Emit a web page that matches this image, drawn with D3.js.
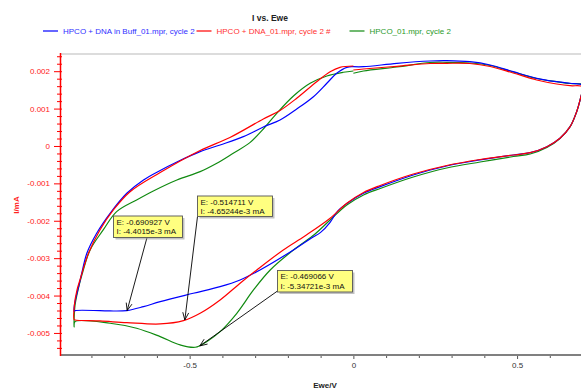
<!DOCTYPE html>
<html><head><meta charset="utf-8">
<script src="https://cdn.jsdelivr.net/npm/d3@7"></script>
<style>html,body{margin:0;padding:0;background:#fff;}svg{display:block;font-family:"Liberation Sans",Arial,sans-serif;}</style>
</head><body>
<svg id="c" width="581" height="390"></svg>
<script>
// ---- data (E in V, I in mA) ----
const seriesNames = ["HPCO + DNA in Buff_01.mpr, cycle 2", "HPCO + DNA_01.mpr, cycle 2 #", "HPCO_01.mpr, cycle 2"];
const seriesColors = ["#0000ff", "#ff0000", "#108a10"];
const legendTextColors = ["#3030ff", "#ff3030", "#2a9a2a"];

const buffCurve = [
 [0.000,0.002120],[0.031,0.002120],[0.133,0.002211],[0.234,0.002273],[0.285,0.002281],[0.356,0.002254],
 [0.418,0.002166],[0.488,0.001987],[0.560,0.001810],[0.621,0.001719],[0.662,0.001677],[0.695,0.001645],
 [0.700,0.001600],[0.700,0.001497],
 [0.695,0.001318],[0.682,0.000917],[0.662,0.000516],[0.631,0.000206],[0.591,-0.000019],[0.540,-0.000179],
 [0.489,-0.000241],[0.387,-0.000374],[0.285,-0.000535],[0.183,-0.000775],[0.082,-0.001088],[0.031,-0.001265],
 [-0.020,-0.001540],[-0.048,-0.001740],[-0.071,-0.002040],[-0.100,-0.002310],[-0.129,-0.002470],[-0.183,-0.002781],
 [-0.285,-0.003316],[-0.346,-0.003583],[-0.407,-0.003762],[-0.489,-0.003939],[-0.590,-0.004163],
 [-0.641,-0.004297],[-0.692,-0.004402],[-0.743,-0.004412],[-0.774,-0.004404],[-0.850,-0.004404],[-0.853,-0.004425],
 [-0.852,-0.004252],[-0.847,-0.004038],[-0.840,-0.003797],[-0.830,-0.003423],[-0.814,-0.002869],[-0.784,-0.002334],
 [-0.743,-0.001800],[-0.692,-0.001265],[-0.641,-0.000909],[-0.590,-0.000655],[-0.539,-0.000428],[-0.468,-0.000152],
 [-0.407,0.000027],[-0.336,0.000249],[-0.275,0.000508],[-0.224,0.000695],[-0.173,0.000989],[-0.122,0.001318],
 [-0.081,0.001677],[-0.051,0.001944],[-0.020,0.002104],[0.000,0.002120]
];
const dnaCurve = [
 [0.000,0.002032],[0.031,0.002059],[0.133,0.002131],[0.234,0.002206],[0.285,0.002211],[0.356,0.002206],
 [0.418,0.002126],[0.488,0.001952],[0.560,0.001765],[0.621,0.001658],[0.662,0.001612],[0.695,0.001604],
 [0.700,0.001570],[0.700,0.001500],
 [0.695,0.001318],[0.682,0.000917],[0.662,0.000516],[0.631,0.000206],[0.591,-0.000019],[0.540,-0.000179],
 [0.489,-0.000241],[0.387,-0.000361],[0.285,-0.000521],[0.183,-0.000749],[0.082,-0.001056],[0.031,-0.001243],
 [-0.020,-0.001532],[-0.071,-0.001933],[-0.148,-0.002407],[-0.214,-0.002781],[-0.295,-0.003316],
 [-0.346,-0.003671],[-0.407,-0.004118],[-0.468,-0.004474],[-0.519,-0.004671],[-0.590,-0.004760],
 [-0.692,-0.004725],[-0.774,-0.004680],[-0.850,-0.004653],[-0.853,-0.004639],
 [-0.852,-0.004252],[-0.844,-0.003851],[-0.835,-0.003583],[-0.809,-0.002869],[-0.774,-0.002246],
 [-0.733,-0.001711],[-0.682,-0.001222],[-0.590,-0.000709],[-0.468,-0.000120],[-0.377,0.000227],
 [-0.275,0.000722],[-0.224,0.000949],[-0.173,0.001276],[-0.112,0.001719],[-0.071,0.001987],
 [-0.041,0.002104],[0.000,0.002139]
];
const hpcoCurve = [
 [0.000,0.001944],[0.031,0.002006],[0.133,0.002112],[0.234,0.002233],[0.285,0.002238],[0.356,0.002219],
 [0.418,0.002153],[0.488,0.001979],[0.560,0.001805],[0.621,0.001719],[0.662,0.001671],[0.695,0.001658],
 [0.700,0.001600],[0.700,0.001500],
 [0.695,0.001318],[0.682,0.000917],[0.662,0.000516],[0.631,0.000201],[0.591,-0.000040],[0.540,-0.000214],
 [0.489,-0.000281],[0.387,-0.000428],[0.285,-0.000588],[0.183,-0.000829],[0.082,-0.001136],[0.031,-0.001310],
 [-0.020,-0.001578],[-0.071,-0.001979],[-0.117,-0.002353],[-0.183,-0.002781],[-0.254,-0.003316],
 [-0.305,-0.003851],[-0.356,-0.004474],[-0.407,-0.004966],[-0.448,-0.005233],[-0.483,-0.005383],
 [-0.529,-0.005321],[-0.590,-0.005099],[-0.662,-0.004875],[-0.743,-0.004741],[-0.850,-0.004698],
 [-0.853,-0.004840],[-0.853,-0.004653],
 [-0.850,-0.004252],[-0.841,-0.003851],[-0.829,-0.003449],[-0.804,-0.002781],[-0.764,-0.002246],
 [-0.723,-0.001757],[-0.662,-0.001444],[-0.611,-0.001203],[-0.539,-0.000909],[-0.468,-0.000687],
 [-0.417,-0.000463],[-0.367,-0.000195],[-0.316,0.000090],[-0.275,0.000455],[-0.234,0.000874],
 [-0.183,0.001337],[-0.132,0.001677],[-0.081,0.001872],[-0.031,0.001971],[0.000,0.002006]
];
const curves = [buffCurve, dnaCurve, hpcoCurve];
const drawOrder = [2, 0, 1];

const annotations = [
 {E:-0.690927, I:-0.0044015, lines:["E: -0.690927 V","I: -4.4015e-3 mA"]},
 {E:-0.514711, I:-0.00465244, lines:["E: -0.514711 V","I: -4.65244e-3 mA"]},
 {E:-0.469066, I:-0.00534721, lines:["E: -0.469066 V","I: -5.34721e-3 mA"]}
];
// box layout (pixels) and arrow start point
const annoBoxes = [
 {x:113.5, y:216, w:69, h:21.5, sx:147, sy:237.5},
 {x:197.5, y:196, w:75, h:20.5, sx:197.5, sy:216.5},
 {x:277.5, y:270.5, w:75, h:21.5, sx:277.5, sy:291}
];

const xMajor = [-0.5, 0, 0.5];
const xMajorLabels = ["-0.5", "0", "0.5"];
const xMinor = [-0.8,-0.7,-0.6,-0.4,-0.3,-0.2,-0.1,0.1,0.2,0.3,0.4,0.6,0.7];
const yMajor = [0.002, 0.001, 0, -0.001, -0.002, -0.003, -0.004, -0.005];
const yMajorLabels = ["0.002","0.001","0","-0.001","-0.002","-0.003","-0.004","-0.005"];
const yMinor = [0.0024,0.0022,0.0018,0.0016,0.0014,0.0012,0.0008,0.0006,0.0004,0.0002,
 -0.0002,-0.0004,-0.0006,-0.0008,-0.0012,-0.0014,-0.0016,-0.0018,-0.0022,-0.0024,-0.0026,-0.0028,
 -0.0032,-0.0034,-0.0036,-0.0038,-0.0042,-0.0044,-0.0046,-0.0048,-0.0052,-0.0054];

// ---- drawing ----
const svg = d3.select("#c");
const x = d3.scaleLinear().domain([-0.896, 0.72]).range([60, 589.1]);
const y = d3.scaleLinear().domain([-0.00559, 0.00246]).range([355, 54]);
const FONT = '"Liberation Sans", Arial, sans-serif';

svg.append("line").attr("x1",60).attr("x2",600).attr("y1",54).attr("y2",54)
  .attr("stroke","#dcdcdc").attr("stroke-width",2);

svg.append("text").attr("x",270).attr("y",20.5).attr("text-anchor","middle")
  .attr("font-size",8.5).attr("font-weight","bold").attr("fill","#222").text("I vs. Ewe");

const legX = [43, 196.5, 349.5];
seriesNames.forEach((n,i)=>{
  svg.append("line").attr("x1",legX[i]).attr("x2",legX[i]+15).attr("y1",31).attr("y2",31)
    .attr("stroke",seriesColors[i]).attr("stroke-opacity",0.6).attr("stroke-width",2);
  svg.append("text").attr("x",legX[i]+20).attr("y",34).attr("font-size",8)
    .attr("fill",legendTextColors[i]).text(n);
});

const line = d3.line().x(d=>x(d[0])).y(d=>y(d[1])).curve(d3.curveCatmullRom.alpha(0.5));
drawOrder.forEach(i=>{
  svg.append("path").datum(curves[i]).attr("d",line).attr("fill","none")
    .attr("stroke",seriesColors[i]).attr("stroke-width",1.2).attr("stroke-linejoin","round");
});

const gx = svg.append("g").attr("transform","translate(0,355)");
gx.call(d3.axisBottom(x).tickValues(xMajor).tickFormat((d,i)=>xMajorLabels[i]).tickSize(4).tickPadding(3));
const gxm = svg.append("g").attr("transform","translate(0,355)");
gxm.call(d3.axisBottom(x).tickValues(xMinor).tickFormat("").tickSize(3));
[gx,gxm].forEach(g=>{
  g.select(".domain").remove();
  g.selectAll("line").attr("stroke","#555");
});
gx.selectAll("text").attr("font-size",8).attr("font-family",FONT).attr("fill","#333");
svg.append("line").attr("x1",60).attr("x2",600).attr("y1",355).attr("y2",355)
  .attr("stroke","#808080").attr("stroke-width",2);

const gy = svg.append("g").attr("transform","translate(60,0)");
gy.call(d3.axisLeft(y).tickValues(yMajor).tickFormat((d,i)=>yMajorLabels[i]).tickSize(6).tickPadding(4));
const gym = svg.append("g").attr("transform","translate(62,0)");
gym.call(d3.axisLeft(y).tickValues(yMinor).tickFormat("").tickSize(5));
[gy,gym].forEach(g=>{
  g.select(".domain").remove();
  g.selectAll("line").attr("stroke","#ff0000");
});
gy.selectAll(".tick line").attr("x1",2);
gy.selectAll("text").attr("font-size",8).attr("font-family",FONT).attr("fill","#ff2020");
svg.append("line").attr("x1",60.5).attr("x2",60.5).attr("y1",53).attr("y2",356)
  .attr("stroke","#ff0000").attr("stroke-width",1.5);

svg.append("text").attr("x",325).attr("y",388).attr("text-anchor","middle")
  .attr("font-size",8).attr("font-weight","bold").attr("fill","#222").text("Ewe/V");
svg.append("text").attr("transform","translate(19,205) rotate(-90)").attr("text-anchor","middle")
  .attr("font-size",8).attr("font-weight","bold").attr("fill","#ff2020").text("I/mA");

annotations.forEach((a,i)=>{
  const b = annoBoxes[i];
  const px = x(a.E), py = y(a.I);
  svg.append("line").attr("x1",b.sx).attr("y1",b.sy).attr("x2",px).attr("y2",py)
    .attr("stroke","#000").attr("stroke-width",0.9);
  const ang = Math.atan2(py-b.sy, px-b.sx), L=8, spread=0.38;
  [ang+Math.PI-spread, ang+Math.PI+spread].forEach(t=>{
    svg.append("line").attr("x1",px).attr("y1",py)
      .attr("x2",px+L*Math.cos(t)).attr("y2",py+L*Math.sin(t))
      .attr("stroke","#000").attr("stroke-width",0.9);
  });
  svg.append("rect").attr("x",b.x+2).attr("y",b.y+2).attr("width",b.w).attr("height",b.h)
    .attr("fill","#999").attr("opacity",0.6);
  svg.append("rect").attr("x",b.x).attr("y",b.y).attr("width",b.w).attr("height",b.h)
    .attr("fill","#ffff80").attr("stroke","#555").attr("stroke-width",0.9);
  a.lines.forEach((t,k)=>{
    svg.append("text").attr("x",b.x+3).attr("y",b.y+8.7+k*9.6).attr("font-size",8)
      .attr("fill","#111").text(t);
  });
});
</script>
</body></html>
